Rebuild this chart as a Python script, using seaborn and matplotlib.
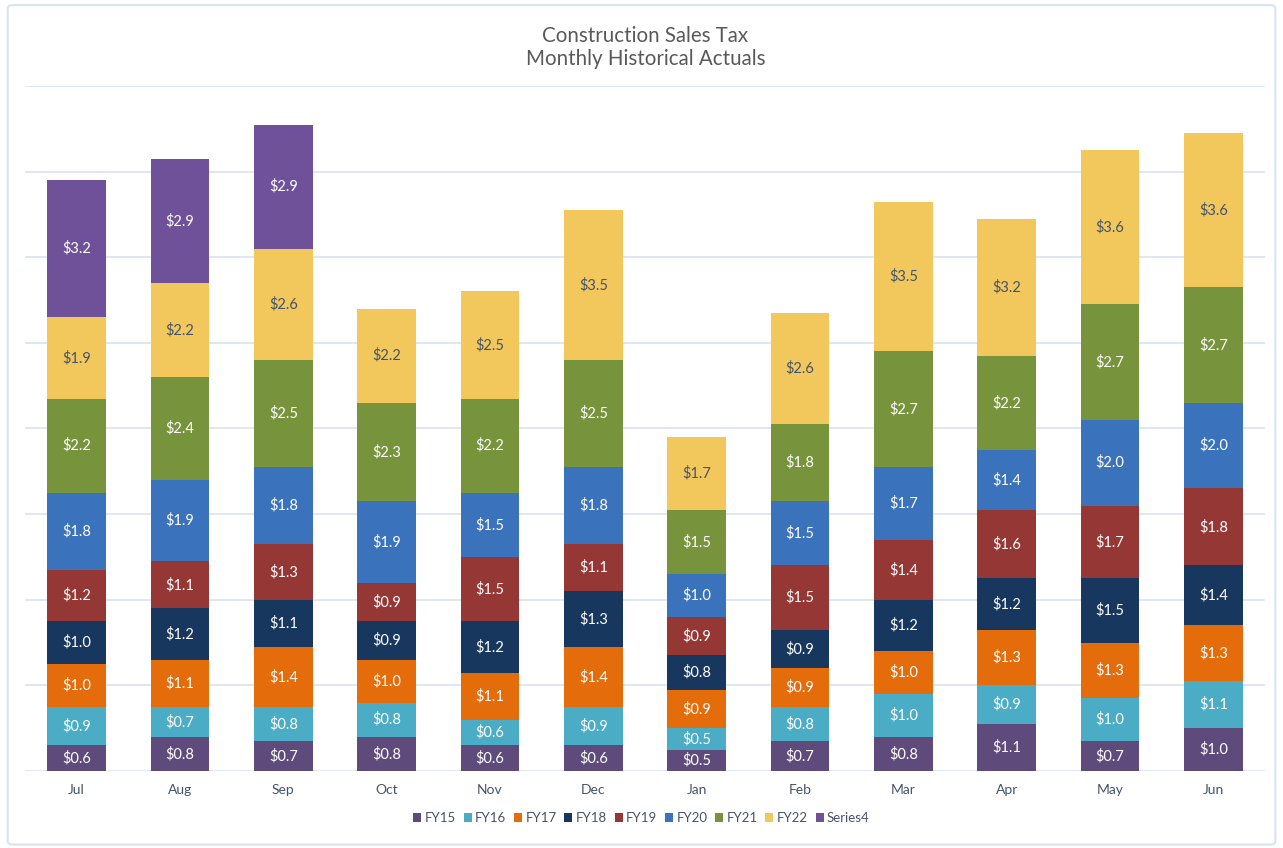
import pandas as pd
import matplotlib.pyplot as plt
import seaborn as sns
from matplotlib.patches import Patch, FancyBboxPatch

# values ($, one decimal as labelled)
months = ['Jul', 'Aug', 'Sep', 'Oct', 'Nov', 'Dec', 'Jan', 'Feb', 'Mar', 'Apr', 'May', 'Jun']
series_names = ['FY15', 'FY16', 'FY17', 'FY18', 'FY19', 'FY20', 'FY21', 'FY22', 'Series4']

fy15 = [0.6, 0.8, 0.7, 0.8, 0.6, 0.6, 0.5, 0.7, 0.8, 1.1, 0.7, 1.0]
fy16 = [0.9, 0.7, 0.8, 0.8, 0.6, 0.9, 0.5, 0.8, 1.0, 0.9, 1.0, 1.1]
fy17 = [1.0, 1.1, 1.4, 1.0, 1.1, 1.4, 0.9, 0.9, 1.0, 1.3, 1.3, 1.3]
fy18 = [1.0, 1.2, 1.1, 0.9, 1.2, 1.3, 0.8, 0.9, 1.2, 1.2, 1.5, 1.4]
fy19 = [1.2, 1.1, 1.3, 0.9, 1.5, 1.1, 0.9, 1.5, 1.4, 1.6, 1.7, 1.8]
fy20 = [1.8, 1.9, 1.8, 1.9, 1.5, 1.8, 1.0, 1.5, 1.7, 1.4, 2.0, 2.0]
fy21 = [2.2, 2.4, 2.5, 2.3, 2.2, 2.5, 1.5, 1.8, 2.7, 2.2, 2.7, 2.7]
fy22 = [1.9, 2.2, 2.6, 2.2, 2.5, 3.5, 1.7, 2.6, 3.5, 3.2, 3.6, 3.6]
series4 = [3.2, 2.9, 2.9, None, None, None, None, None, None, None, None, None]

colors = ['#5F4B7B', '#4BACC6', '#E46C0A', '#17375E', '#953735',
          '#3B72BC', '#77933C', '#F2C75C', '#6F519A']
label_colors = ['white'] * 7 + ['#44546A', 'white']

# long table for seaborn
rows = []
for name, vals in zip(series_names, [fy15, fy16, fy17, fy18, fy19, fy20, fy21, fy22, series4]):
    for m, v in zip(months, vals):
        if v is not None:
            rows.append({'month': m, 'series': name, 'value': v})
df = pd.DataFrame(rows)

sns.set_style('white')
plt.rcParams['font.family'] = ['Lato', 'DejaVu Sans']

fig = plt.figure(figsize=(12.83, 8.48), dpi=100)
ax = fig.add_axes([0.0195, 0.0908, 0.9665, 0.8078])

bottoms = {m: 0.0 for m in months}
for name, col, lcol in zip(series_names, colors, label_colors):
    sub = df[df['series'] == name]
    sub_months = [m for m in months if m in set(sub['month'])]
    base = [bottoms[m] for m in sub_months]
    sns.barplot(data=sub, x='month', y='value', order=months, color=col,
                width=0.57, errorbar=None, bottom=base, saturation=1,
                edgecolor='none', linewidth=0, ax=ax, zorder=3)
    cont = ax.containers[-1]
    vals = sub.set_index('month').loc[sub_months, 'value'].tolist()
    ax.bar_label(cont, labels=[f'${v:.1f}' for v in vals], label_type='center',
                 color=lcol, fontsize=10.5)
    for m, v in zip(sub_months, vals):
        bottoms[m] += v

ax.set_xlim(-0.5, 11.5)
ax.set_ylim(0, 16)
ax.set_yticks(range(0, 17, 2))
ax.set_yticklabels([])
ax.grid(axis='y', color='#D9E3F1', linewidth=1.2, zorder=0)
ax.tick_params(axis='both', length=0)
ax.tick_params(axis='x', pad=9, labelsize=10, labelcolor='#44546A')
ax.set_xlabel('')
ax.set_ylabel('')
for s in ax.spines.values():
    s.set_visible(False)

fig.text(0.503, 0.958, 'Construction Sales Tax', ha='center', va='center',
         fontsize=14.8, color='#595959')
fig.text(0.503, 0.930, 'Monthly Historical Actuals', ha='center', va='center',
         fontsize=14.8, color='#595959')

handles = [Patch(facecolor=c, edgecolor='none', label=n) for n, c in zip(series_names, colors)]
fig.legend(handles=handles, loc='center', bbox_to_anchor=(0.5, 0.035), ncol=9,
           frameon=False, fontsize=9.5, handlelength=0.6, handleheight=0.6,
           handletextpad=0.25, columnspacing=0.6, labelcolor='#44546A')

# light chart border
fig.patches.append(FancyBboxPatch((0.006, 0.004), 0.988, 0.99,
                                  boxstyle='round,pad=0,rounding_size=0.004',
                                  transform=fig.transFigure, facecolor='none',
                                  edgecolor='#D9E3F1', linewidth=1.5))

plt.savefig('out.png', dpi=100)
